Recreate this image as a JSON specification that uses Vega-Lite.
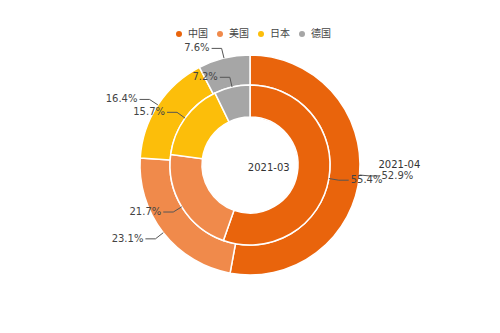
{
  "$schema": "https://vega.github.io/schema/vega-lite/v6.json",
  "width": 500,
  "height": 330,
  "padding": 0,
  "autosize": {"type": "none"},
  "background": "white",
  "config": {"view": {"stroke": null}, "font": "DejaVu Sans"},
  "data": {
    "values": [
      {"ring": "2021-04", "country": "中国", "value": 52.9, "order": 1},
      {"ring": "2021-04", "country": "美国", "value": 23.1, "order": 2},
      {"ring": "2021-04", "country": "日本", "value": 16.4, "order": 3},
      {"ring": "2021-04", "country": "德国", "value": 7.6, "order": 4},
      {"ring": "2021-03", "country": "中国", "value": 55.4, "order": 1},
      {"ring": "2021-03", "country": "美国", "value": 21.7, "order": 2},
      {"ring": "2021-03", "country": "日本", "value": 15.7, "order": 3},
      {"ring": "2021-03", "country": "德国", "value": 7.2, "order": 4}
    ]
  },
  "transform": [
    {"stack": "value", "groupby": ["ring"], "sort": [{"field": "order"}], "as": ["v0", "v1"]},
    {"calculate": "PI*(datum.v0+datum.v1)/100", "as": "a"},
    {"calculate": "datum.ring==='2021-04'?110:80", "as": "r"},
    {"calculate": "sin(datum.a)>=0?1:-1", "as": "side"},
    {"calculate": "format(datum.value,'.1f')+'%'", "as": "label"},
    {"calculate": "datum.ring+datum.country", "as": "key"}
  ],
  "layer": [
    {
      "transform": [{"filter": "datum.ring==='2021-04'"}],
      "mark": {"type": "arc", "radius": 110, "radius2": 80, "stroke": "white", "strokeWidth": 1.5},
      "encoding": {
        "theta": {"field": "value", "type": "quantitative", "stack": true},
        "order": {"field": "order", "type": "quantitative"},
        "color": {
          "field": "country",
          "type": "nominal",
          "scale": {"domain": ["中国", "美国", "日本", "德国"], "range": ["#E9640C", "#F08A4B", "#FCBE0A", "#A6A6A6"]},
          "legend": {
            "orient": "none",
            "direction": "horizontal",
            "legendX": 174,
            "legendY": 29,
            "title": null,
            "symbolType": "circle",
            "symbolSize": 36,
            "symbolStrokeWidth": 0,
            "labelFont": "Noto Sans CJK SC",
            "labelFontSize": 10,
            "labelColor": "#444444",
            "labelOffset": 4,
            "columnPadding": 7,
            "symbolOffset": 0
          }
        }
      }
    },
    {
      "transform": [{"filter": "datum.ring==='2021-03'"}],
      "mark": {"type": "arc", "radius": 80, "radius2": 48, "stroke": "white", "strokeWidth": 1.5},
      "encoding": {
        "theta": {"field": "value", "type": "quantitative", "stack": true},
        "order": {"field": "order", "type": "quantitative"},
        "color": {"field": "country", "type": "nominal"}
      }
    },
    {
      "transform": [
        {"calculate": "[0,1,2]", "as": "pts"},
        {"flatten": ["pts"], "as": ["p"]},
        {"calculate": "datum.p==0?datum.r*sin(datum.a):(datum.r+10)*sin(datum.a)+(datum.p==2?datum.side*10:0)", "as": "lx"},
        {"calculate": "(datum.p==0?datum.r:datum.r+10)*cos(datum.a)", "as": "ly"}
      ],
      "mark": {"type": "line", "color": "#555555", "strokeWidth": 1},
      "encoding": {
        "x": {"field": "lx", "type": "quantitative", "scale": {"domain": [-250, 250], "nice": false, "zero": false}, "axis": null},
        "y": {"field": "ly", "type": "quantitative", "scale": {"domain": [-165, 165], "nice": false, "zero": false}, "axis": null},
        "detail": {"field": "key"},
        "order": {"field": "p", "type": "quantitative"}
      }
    },
    {
      "transform": [
        {"filter": "datum.side>0"},
        {"calculate": "(datum.r+10)*sin(datum.a)+datum.side*12", "as": "lx"},
        {"calculate": "(datum.r+10)*cos(datum.a)", "as": "ly"}
      ],
      "mark": {"type": "text", "align": "left", "baseline": "middle", "fontSize": 10, "color": "#444444"},
      "encoding": {
        "x": {"field": "lx", "type": "quantitative"},
        "y": {"field": "ly", "type": "quantitative"},
        "text": {"field": "label"}
      }
    },
    {
      "transform": [
        {"filter": "datum.side<0"},
        {"calculate": "(datum.r+10)*sin(datum.a)+datum.side*12", "as": "lx"},
        {"calculate": "(datum.r+10)*cos(datum.a)", "as": "ly"}
      ],
      "mark": {"type": "text", "align": "right", "baseline": "middle", "fontSize": 10, "color": "#444444"},
      "encoding": {
        "x": {"field": "lx", "type": "quantitative"},
        "y": {"field": "ly", "type": "quantitative"},
        "text": {"field": "label"}
      }
    },
    {
      "transform": [
        {"filter": "datum.ring==='2021-04' && datum.order==1"},
        {"calculate": "(datum.r+10)*sin(datum.a)+datum.side*12", "as": "lx"},
        {"calculate": "(datum.r+10)*cos(datum.a)", "as": "ly"}
      ],
      "mark": {"type": "text", "align": "left", "baseline": "middle", "fontSize": 10, "color": "#333333", "dx": -3, "dy": -11},
      "encoding": {
        "x": {"field": "lx", "type": "quantitative"},
        "y": {"field": "ly", "type": "quantitative"},
        "text": {"field": "ring"}
      }
    },
    {
      "transform": [
        {"filter": "datum.ring==='2021-03' && datum.order==1"},
        {"calculate": "19*sin(datum.a)", "as": "lx"},
        {"calculate": "19*cos(datum.a)", "as": "ly"}
      ],
      "mark": {"type": "text", "align": "center", "baseline": "middle", "fontSize": 10, "color": "#333333"},
      "encoding": {
        "x": {"field": "lx", "type": "quantitative"},
        "y": {"field": "ly", "type": "quantitative"},
        "text": {"field": "ring"}
      }
    }
  ]
}
